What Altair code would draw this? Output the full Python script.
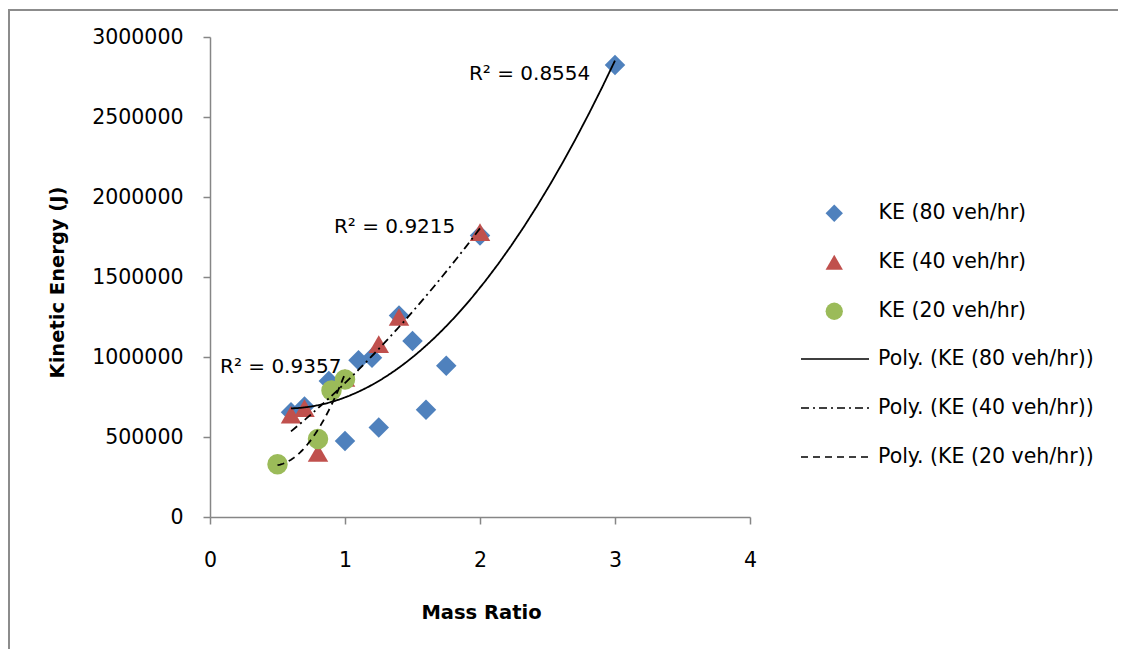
import altair as alt
import pandas as pd

# ---- data ----
series_names = ["KE (80 veh/hr)", "KE (40 veh/hr)", "KE (20 veh/hr)"]
trend_names = ["Poly. (KE (80 veh/hr))", "Poly. (KE (40 veh/hr))", "Poly. (KE (20 veh/hr))"]

x80 = [0.6, 0.7, 0.88, 1.0, 1.1, 1.2, 1.25, 1.4, 1.5, 1.6, 1.75, 2.0, 3.0]
y80 = [655000, 690000, 850000, 475000, 980000, 995000, 560000, 1260000, 1100000, 670000, 945000, 1760000, 2825000]

x40 = [0.6, 0.7, 0.8, 1.0, 1.25, 1.4, 2.0]
y40 = [640000, 680000, 400000, 870000, 1080000, 1250000, 1780000]

x20 = [0.5, 0.8, 0.9, 1.0]
y20 = [330000, 487000, 790000, 860000]

r2_labels = ["R\u00b2 = 0.8554", "R\u00b2 = 0.9215", "R\u00b2 = 0.9357"]
r2_x = [1.918, 0.918, 0.074]
r2_y = [2768000, 1812000, 940000]

x_ticks = [0, 1, 2, 3, 4]
y_ticks = [0, 500000, 1000000, 1500000, 2000000, 2500000, 3000000]

# ---- styles ----
colors = ["#4F81BD", "#C0504D", "#9BBB59"]
shapes = ["diamond", "triangle-up", "circle"]
dashes = [[1, 0], [8, 4, 2, 4], [7, 5]]
FONT = "DejaVu Sans"
AXIS_GREY = "#868686"

rows = []
for name, xs, ys in zip(series_names, [x80, x40, x20], [y80, y40, y20]):
    for xv, yv in zip(xs, ys):
        rows.append({"series": name, "x": xv, "y": yv})
df = pd.DataFrame(rows)
lab_df = pd.DataFrame({"label": r2_labels, "x": r2_x, "y": r2_y})
one = pd.DataFrame({"a": [0]})

xscale = alt.Scale(domain=[0, 4], nice=False, zero=False)
yscale = alt.Scale(domain=[0, 3000000], nice=False, zero=False)

x_axis = alt.Axis(values=x_ticks, grid=False, domainColor=AXIS_GREY, tickColor=AXIS_GREY,
                  domainWidth=1.5, tickWidth=1.5, tickSize=7, labelPadding=26, labelFlush=False,
                  labelFontSize=20.5, labelFont=FONT, labelColor="black", format="d",
                  titleFontSize=19.5, titleFont=FONT, titleFontWeight="bold", titleColor="black",
                  titleX=271, titleY=95, titleBaseline="middle", titleAlign="center")
y_axis = alt.Axis(values=y_ticks, grid=False, domainColor=AXIS_GREY, tickColor=AXIS_GREY,
                  domainWidth=1.5, tickWidth=1.5, tickSize=7, labelPadding=20, labelFlush=False,
                  labelFontSize=20.5, labelFont=FONT, labelColor="black", format="d",
                  titleFontSize=19.5, titleFont=FONT, titleFontWeight="bold", titleColor="black",
                  titleX=-153, titleY=245, titleAngle=270, titleBaseline="middle", titleAlign="center")

pt_legend = alt.Legend(title=None, orient="none", legendX=614, legendY=166, padding=0,
                       symbolSize=300, labelOffset=34, rowPadding=28, labelFontSize=20.5,
                       labelFont=FONT, labelColor="black", symbolOpacity=1, symbolStrokeWidth=0,
                       labelLimit=400)

points = alt.Chart(df).mark_point(filled=True, size=420, opacity=1).encode(
    x=alt.X("x:Q", scale=xscale, axis=x_axis, title="Mass Ratio"),
    y=alt.Y("y:Q", scale=yscale, axis=y_axis, title="Kinetic Energy (J)"),
    color=alt.Color("series:N", scale=alt.Scale(domain=series_names, range=colors), legend=pt_legend),
    shape=alt.Shape("series:N", scale=alt.Scale(domain=series_names, range=shapes), legend=pt_legend),
)

line_legend = alt.Legend(title=None, orient="none", legendX=590, legendY=287, padding=0,
                         symbolSize=4624, labelOffset=8, rowPadding=3, labelFontSize=20.5,
                         labelFont=FONT, labelColor="black", symbolType="stroke",
                         symbolStrokeColor="black", symbolStrokeWidth=1.6, labelLimit=400)

lines = alt.Chart(df).transform_regression(
    "x", "y", method="poly", order=2, groupby=["series"]
).transform_calculate(
    trend='"Poly. (" + datum.series + ")"'
).mark_line(color="black", strokeWidth=1.8).encode(
    x=alt.X("x:Q", scale=xscale),
    y=alt.Y("y:Q", scale=yscale),
    strokeDash=alt.StrokeDash("trend:N", scale=alt.Scale(domain=trend_names, range=dashes),
                              legend=line_legend),
)

labels = alt.Chart(lab_df).mark_text(align="left", baseline="middle", fontSize=20, font=FONT,
                                      color="black").encode(
    x=alt.X("x:Q", scale=xscale),
    y=alt.Y("y:Q", scale=yscale),
    text="label:N",
)

border_top = alt.Chart(one).mark_rect(color="#8C8C8C", strokeWidth=0).encode(
    x=alt.value(-202), x2=alt.value(1000), y=alt.value(-28), y2=alt.value(-26))
border_left = alt.Chart(one).mark_rect(color="#8C8C8C", strokeWidth=0).encode(
    x=alt.value(-202), x2=alt.value(-200), y=alt.value(-28), y2=alt.value(700))

chart = alt.layer(border_top, border_left, points, lines, labels).properties(
    width=540, height=480,
    padding={"left": 202, "top": 29, "right": 368, "bottom": 132},
    autosize=alt.AutoSizeParams(type="none"),
    background="white",
).configure(font=FONT).configure_view(stroke=None)

chart.save("out.html", embed_options={"renderer": "svg", "actions": False})
